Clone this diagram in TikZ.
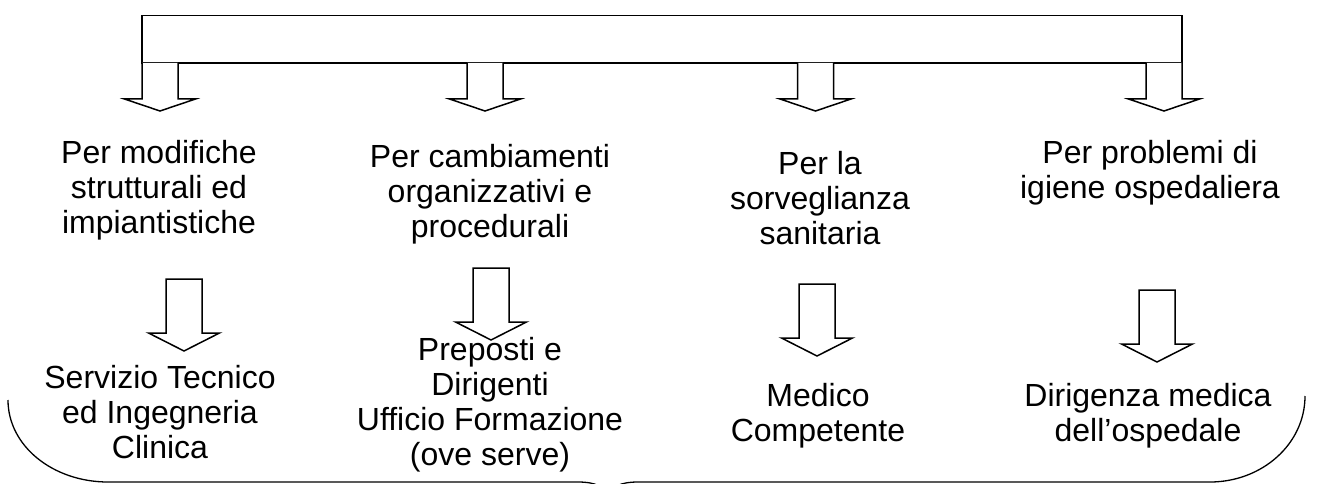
\documentclass[tikz,border=0pt]{standalone}
\usepackage{fontspec}
\setmainfont{Liberation Sans}
\begin{document}
\begin{tikzpicture}[x=1pt,y=-1pt,
  blk/.style={draw=black,line width=1.5pt,line join=miter,fill=white},
  lbl/.style={inner sep=0pt,align=center,anchor=north,font=\fontsize{32}{35}\selectfont},
  bracestyle/.style={draw=black,line width=1.3pt}]
\useasboundingbox (0,0) rectangle (1317,484);
\newcommand\toparrow[1]{%
  \draw[blk] ({#1-18},63) -- ({#1-18},99) -- ({#1-35.5},99) -- (#1,111) -- ({#1+35.5},99) -- ({#1+18},99) -- ({#1+18},63);}
\newcommand\midarrow[4]{% cx, ytop, yneck, ytip
  \draw[blk] ({#1-18},#2) -- ({#1-18},#3) -- ({#1-35.5},#3) -- (#1,#4) -- ({#1+35.5},#3) -- ({#1+18},#3) -- ({#1+18},#2) -- cycle;}
% top bar
\draw[blk] (142,15.5) rectangle (1182,63);
\toparrow{160}
\toparrow{485}
\toparrow{815.5}
\toparrow{1164}
% first row texts
\node[lbl] (t1) at (159,140) {Per modifiche\\strutturali ed\\impiantistiche};
\node[lbl] (t2) at (490,144) {Per cambiamenti\\organizzativi e\\procedurali};
\node[lbl] (t3) at (820,151) {Per la\\sorveglianza\\sanitaria};
\node[lbl] (t4) at (1150,140) {Per problemi di\\igiene ospedaliera};
% second row arrows
\midarrow{184}{279}{333}{351}
\midarrow{491}{268}{322}{340}
\midarrow{817}{284}{338}{356}
\midarrow{1157}{290}{344}{362}
% bottom texts
\node[lbl] (b1) at (160,365) {Servizio Tecnico\\ed Ingegneria\\Clinica};
\node[lbl] (b2) at (490,337) {Preposti e\\Dirigenti\\Ufficio Formazione\\(ove serve)};
\node[lbl] (b3) at (818,383) {Medico\\Competente};
\node[lbl] (b4) at (1148,383) {Dirigenza medica\\dell’ospedale};
% bottom brace
\draw[bracestyle] (8,400) .. controls (8,446) and (53,482) .. (108,482)
  -- (578,482) .. controls (596,482) and (605,487) .. (608,496)
  .. controls (611,487) and (620,482) .. (638,482)
  -- (1210,482) .. controls (1262,482) and (1305,444) .. (1305,396);
\end{tikzpicture}
\end{document}
